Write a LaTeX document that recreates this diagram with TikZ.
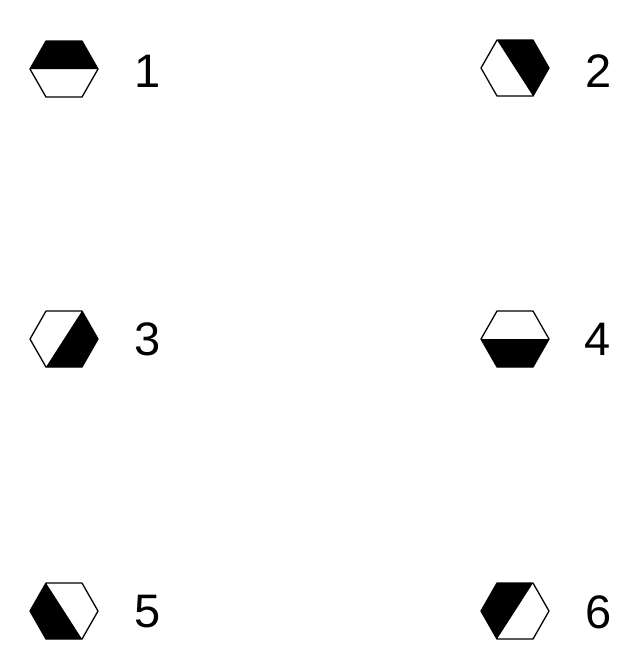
\documentclass[tikz,border=0pt]{standalone}
\usepackage{fontspec}
\setmainfont{Liberation Sans}
\tikzset{
  hexline/.style={draw=black, line width=1.3pt, line join=round},
  hexfill/.style={fill=black},
  lbl/.style={font=\fontsize{47}{47}\selectfont, inner sep=0pt, anchor=center}
}
\newcommand\hexpts{%
  \coordinate (TL) at (-18,-28);
  \coordinate (TR) at (18,-28);
  \coordinate (R) at (34,0);
  \coordinate (BR) at (18,28);
  \coordinate (BL) at (-18,28);
  \coordinate (L) at (-34,0);}
\newcommand\hexoutline{\draw[hexline] (TL)--(TR)--(R)--(BR)--(BL)--(L)--cycle;}
\begin{document}
\begin{tikzpicture}[x=1pt,y=-1pt]
\useasboundingbox (0,0) rectangle (628,657);
% 1
\begin{scope}[shift={(64,69)}]
\hexpts
\fill[hexfill] (L)--(TL)--(TR)--(R)--cycle;
\hexoutline
\end{scope}
% 2
\begin{scope}[shift={(515,68)}]
\hexpts
\fill[hexfill] (TL)--(TR)--(R)--(BR)--cycle;
\hexoutline
\end{scope}
% 3
\begin{scope}[shift={(64,339)}]
\hexpts
\fill[hexfill] (TR)--(R)--(BR)--(BL)--cycle;
\hexoutline
\end{scope}
% 4
\begin{scope}[shift={(515,339)}]
\hexpts
\fill[hexfill] (L)--(R)--(BR)--(BL)--cycle;
\hexoutline
\end{scope}
% 5
\begin{scope}[shift={(64,611)}]
\hexpts
\fill[hexfill] (TL)--(BR)--(BL)--(L)--cycle;
\hexoutline
\end{scope}
% 6
\begin{scope}[shift={(515,611)}]
\hexpts
\fill[hexfill] (TR)--(TL)--(L)--(BL)--cycle;
\hexoutline
\end{scope}
\node[lbl] (n1) at (148,71) {1};
\node[lbl] (n2) at (599,71) {2};
\node[lbl] (n3) at (148,339) {3};
\node[lbl] (n4) at (598,339) {4};
\node[lbl] (n5) at (148,612) {5};
\node[lbl] (n6) at (599,612) {6};
\end{tikzpicture}
\end{document}
